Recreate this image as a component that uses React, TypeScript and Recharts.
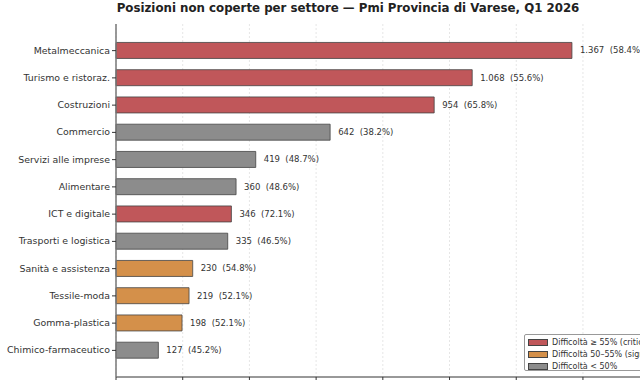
import React from 'react';
import { BarChart, Bar, XAxis, YAxis, CartesianGrid, Cell, LabelList } from 'recharts';

const sectors = [
  'Metalmeccanica',
  'Turismo e ristoraz.',
  'Costruzioni',
  'Commercio',
  'Servizi alle imprese',
  'Alimentare',
  'ICT e digitale',
  'Trasporti e logistica',
  'Sanità e assistenza',
  'Tessile-moda',
  'Gomma-plastica',
  'Chimico-farmaceutico',
];
const openPositions = [1367, 1068, 954, 642, 419, 360, 346, 335, 230, 219, 198, 127];
const difficultyPct = [58.4, 55.6, 65.8, 38.2, 48.7, 48.6, 72.1, 46.5, 54.8, 52.1, 52.1, 45.2];
const xTicks = [0, 200, 400, 600, 800, 1000, 1200, 1400, 1600];

const RED = '#c0575a';
const ORANGE = '#d4904a';
const GRAY = '#8c8c8c';
const FONT = '"DejaVu Sans", sans-serif';

const colorFor = (pct: number) => (pct >= 55 ? RED : pct >= 50 ? ORANGE : GRAY);

const fmt = (n: number) => String(n).replace(/\B(?=(\d{3})+(?!\d))/g, '.');

const data = sectors.map((name, i) => ({
  name,
  value: openPositions[i],
  pct: difficultyPct[i],
}));

const ValueLabel = (props: any) => {
  const { x, y, width, height, index } = props;
  const d = data[index];
  return (
    <text
      x={x + width + 8}
      y={y + height / 2}
      dy={3}
      fontSize={8.5}
      fill="#333"
      fontFamily={FONT}
      style={{ whiteSpace: 'pre' }}
    >
      {`${fmt(d.value)}  (${d.pct.toFixed(1)}%)`}
    </text>
  );
};

const SectorTick = (props: any) => {
  const { x, y, payload } = props;
  return (
    <text x={x} y={y} dy={3} textAnchor="end" fontSize={9.4} fill="#333" fontFamily={FONT}>
      {payload.value}
    </text>
  );
};

// the x tick labels sit below the visible crop in the reference, only tick marks show
const NoLabel = () => <g />;

const legendItems = [
  { color: RED, label: 'Difficoltà ≥ 55% (critica)' },
  { color: ORANGE, label: 'Difficoltà 50–55% (significativa)' },
  { color: GRAY, label: 'Difficoltà < 50%' },
];

export default function App() {
  return (
    <div
      style={{
        position: 'fixed',
        left: 0,
        top: 0,
        width: 640,
        height: 380,
        overflow: 'hidden',
        background: '#fff',
        fontFamily: FONT,
      }}
    >
      <div
        style={{
          position: 'absolute',
          left: 0,
          width: 696,
          top: 0,
          textAlign: 'center',
          fontSize: 11.8,
          fontWeight: 'bold',
          color: '#222',
          lineHeight: '16px',
        }}
      >
        Posizioni non coperte per settore — Pmi Provincia di Varese, Q1 2026
      </div>
      <BarChart
        width={700}
        height={400}
        data={data}
        layout="vertical"
        margin={{ top: 24, right: 17, bottom: 3, left: 0 }}
        barCategoryGap="20%"
      >
        <CartesianGrid horizontal={false} stroke="#e6e6e6" strokeDasharray="2 2" />
        <XAxis
          type="number"
          domain={[0, 1700]}
          ticks={xTicks}
          height={20}
          axisLine={{ stroke: '#333' }}
          tickLine={{ stroke: '#333' }}
          tickSize={4}
          tick={<NoLabel />}
        />
        <YAxis
          type="category"
          dataKey="name"
          width={116}
          padding={{ top: 13, bottom: 13 }}
          axisLine={{ stroke: '#777', strokeWidth: 1.5 }}
          tickLine={{ stroke: '#333' }}
          tickSize={4}
          interval={0}
          tick={<SectorTick />}
        />
        <Bar dataKey="value" isAnimationActive={false} stroke="#444" strokeWidth={0.8}>
          {data.map((d, i) => (
            <Cell key={i} fill={colorFor(d.pct)} />
          ))}
          <LabelList dataKey="value" content={<ValueLabel />} />
        </Bar>
      </BarChart>
      <div
        style={{
          position: 'absolute',
          left: 524,
          top: 334,
          width: 170,
          height: 37,
          border: '1px solid #999',
          borderRadius: 2,
          background: 'rgba(255,255,255,0.85)',
          boxSizing: 'border-box',
          padding: '1px 0 0 3px',
        }}
      >
        {legendItems.map((it) => (
          <div
            key={it.label}
            style={{ display: 'flex', alignItems: 'center', height: 12, fontSize: 8, color: '#333', whiteSpace: 'nowrap' }}
          >
            <span
              style={{
                display: 'inline-block',
                width: 20,
                height: 7,
                background: it.color,
                border: '0.8px solid #444',
                boxSizing: 'border-box',
                marginRight: 4,
              }}
            />
            {it.label}
          </div>
        ))}
      </div>
    </div>
  );
}
